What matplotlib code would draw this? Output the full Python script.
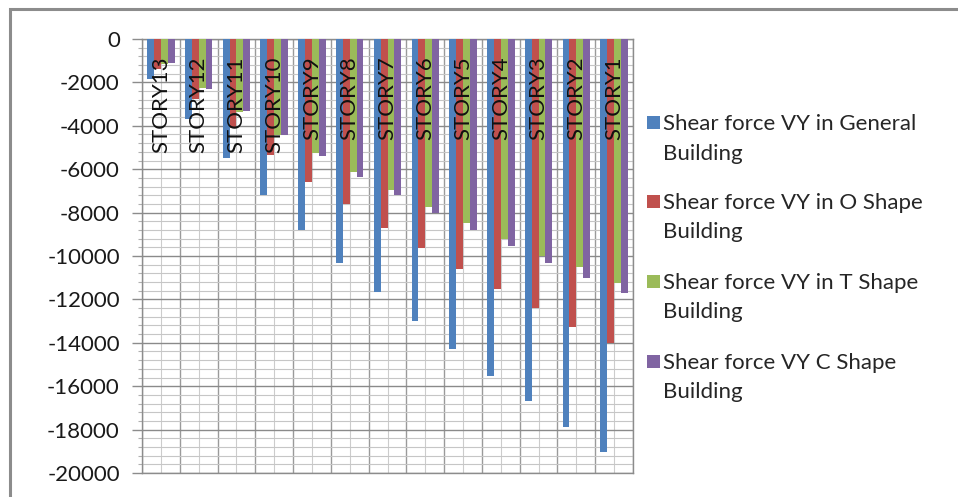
import numpy as np
import matplotlib
matplotlib.use("Agg")
import matplotlib.pyplot as plt
from matplotlib.patches import Rectangle

plt.rcParams['font.family'] = ['Lato', 'DejaVu Sans']

# Storey labels, top storey on the left
stories = ["STORY13", "STORY12", "STORY11", "STORY10", "STORY9", "STORY8", "STORY7",
           "STORY6", "STORY5", "STORY4", "STORY3", "STORY2", "STORY1"]

# Storey shear VY (kN) for each building form
vy_general = [-1850, -3700, -5500, -7200, -8780, -10330, -11670,
              -13000, -14280, -15520, -16700, -17870, -19010]
vy_o_shape = [-1380, -2760, -4100, -5360, -6580, -7590, -8730,
              -9650, -10620, -11500, -12410, -13260, -14030]
vy_t_shape = [-1130, -2250, -3350, -4430, -5270, -6120, -6970,
              -7740, -8500, -9200, -9980, -10520, -11240]
vy_c_shape = [-1100, -2300, -3320, -4430, -5400, -6350, -7200,
              -8020, -8820, -9560, -10320, -11010, -11720]

series_names = ["Shear force VY in General\nBuilding",
                "Shear force VY in O Shape\nBuilding",
                "Shear force VY in T Shape\nBuilding",
                "Shear force VY C Shape\nBuilding"]
series_values = [vy_general, vy_o_shape, vy_t_shape, vy_c_shape]
colors = ["#4F81BD", "#C0504D", "#9BBB59", "#8064A2"]

W, H = 958, 497
fig = plt.figure(figsize=(W / 100, H / 100), dpi=100)
fig.patch.set_facecolor("white")

# outer chart frame
fig.patches.append(Rectangle((10 / W, -0.1), 1.2, 1.1 - 9 / H, transform=fig.transFigure,
                             fill=False, edgecolor="#8c8c8c", linewidth=2.2, zorder=0))

ax = fig.add_axes([142 / W, 1 - 473 / H, (633 - 142) / W, (473 - 39) / H])

x = np.arange(len(stories))
bw = 1 / 5.5
for i, (vals, col) in enumerate(zip(series_values, colors)):
    ax.bar(x + (i - 1.5) * bw, vals, bw, color=col, zorder=3, linewidth=0)

ax.set_xlim(-0.5, len(stories) - 0.5)
ax.set_ylim(-20000, 0)

ax.set_yticks(np.arange(-20000, 1, 2000))
ax.set_yticks(np.arange(-20000, 1, 400), minor=True)
ax.set_yticklabels([str(v) for v in range(-20000, 1, 2000)])
ax.set_xticks(np.arange(-0.5, len(stories), 1))
ax.set_xticks(x, minor=True)

ax.grid(which="major", axis="y", color="#8a8a8a", linewidth=1.0, zorder=1)
ax.grid(which="minor", axis="y", color="#c6c6c6", linewidth=0.8, zorder=1)
ax.grid(which="major", axis="x", color="#9a9a9a", linewidth=1.0, zorder=1)
ax.grid(which="minor", axis="x", color="#cccccc", linewidth=0.8, zorder=1)
ax.set_axisbelow(True)

ax.tick_params(axis="x", which="both", length=0, labelbottom=False, labeltop=False)
ax.tick_params(axis="y", which="major", direction="out", length=7, width=1,
               color="#8c8c8c", pad=9, labelsize=16, labelcolor="#1a1a1a")
ax.tick_params(axis="y", which="minor", direction="out", length=3, width=0.8,
               color="#b0b0b0")
for s in ax.spines.values():
    s.set_color("#8c8c8c")
    s.set_linewidth(1.0)

# storey labels hanging below the zero line
for xi, name in zip(x, stories):
    ax.annotate(name, xy=(xi, 0), xytext=(0, -17), textcoords="offset pixels",
                rotation=90, ha="center", va="top", fontsize=16, color="#111111",
                zorder=5)

# legend: swatch beside the first line of each two-line entry
first_line_y = [122, 201, 281, 361]
line_gap = 30
for name, col, yc in zip(series_names, colors, first_line_y):
    fig.patches.append(Rectangle((647 / W, 1 - (yc + 6.5) / H), 13 / W, 13 / H,
                                 transform=fig.transFigure, facecolor=col,
                                 edgecolor="none"))
    fig.text(663 / W, 1 - (yc + 7.5 + line_gap) / H, name, ha="left", va="baseline",
             fontsize=16, color="#262626", linespacing=1.6)

fig.savefig("out.png", dpi=100)
